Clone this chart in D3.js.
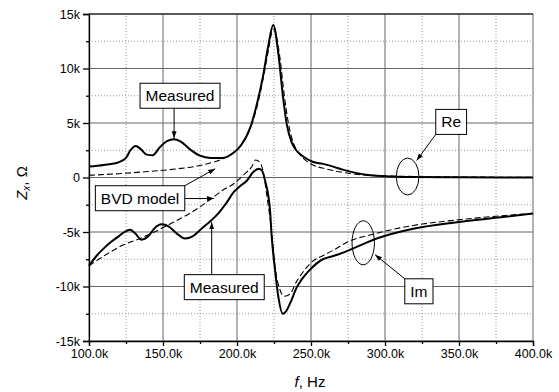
<!DOCTYPE html>
<html>
<head>
<meta charset="utf-8">
<script src="https://d3js.org/d3.v7.min.js"></script>
<style>
  body { margin: 0; background: #fff; }
  svg { display: block; font-family: "Liberation Sans", Arial, sans-serif; }
</style>
</head>
<body>
<div id="chart"></div>
<script>
// frequency in kHz, impedance in kOhm
const measuredRe = [
  [100, 1.0], [110, 1.15], [120, 1.4], [125, 1.8], [128, 2.5], [131.5, 2.9], [135, 2.6],
  [139, 2.1], [143, 2.05], [148, 2.8], [153, 3.35], [157, 3.5], [162, 3.3], [168, 2.6],
  [175, 2.0], [182, 1.8], [190, 1.8], [197, 2.2], [203, 3.0], [209, 4.6], [213, 6.5],
  [217.6, 9.3], [221, 12.0], [224.5, 14.0], [228, 11.3], [231, 7.5], [233.6, 4.9],
  [237, 3.2], [240, 2.5], [245, 1.9], [251, 1.45], [258, 1.25], [265, 1.0], [272, 0.7],
  [281, 0.4], [290, 0.2], [303, 0.1], [320, 0.04], [350, 0.02], [400, 0.0]
];
const bvdRe = [
  [100, 0.2], [120, 0.35], [140, 0.55], [160, 0.8], [175, 1.1], [185, 1.45], [192, 1.8],
  [198, 2.3], [203, 3.0], [208, 4.2], [213, 6.2], [217, 8.6], [221, 11.5], [224, 13.5],
  [225, 13.6], [226, 13.3], [229, 11.0], [232, 7.5], [235, 4.8], [238, 3.2], [242, 2.2],
  [247, 1.5], [252, 1.1], [260, 0.8], [270, 0.5], [280, 0.3], [300, 0.15], [350, 0.05],
  [400, 0.02]
];
const measuredIm = [
  [100, -8.1], [105, -7.2], [110, -6.5], [115, -5.9], [120, -5.4], [124, -5.0], [127.7, -4.8],
  [131, -5.1], [135.6, -5.7], [140, -5.4], [144, -4.7], [149, -4.3], [154, -4.5], [159, -5.1],
  [164.9, -5.6], [170, -5.4], [176, -4.7], [182.9, -3.9], [188, -3.2], [193, -2.3],
  [198, -1.3], [202, -0.8], [206.6, -0.3], [211, 0.5], [214.9, 0.8], [217, 0.6], [219, -0.3],
  [222.3, -3.0], [223.5, -5.5], [225.7, -8.5], [228, -11.0], [230.9, -12.5], [233, -12.3],
  [236, -11.5], [240.3, -10.1], [244, -9.3], [249, -8.5], [258, -7.5], [265, -7.2],
  [269.6, -7.0], [278.6, -6.5], [294.4, -5.6], [319, -4.7], [348.5, -4.1], [375, -3.7],
  [400, -3.3]
];
const bvdIm = [
  [100, -8.1], [110, -7.2], [123, -6.2], [134.5, -5.6], [145.7, -4.9], [157, -4.1],
  [168, -3.3], [176, -2.6], [184, -1.8], [190, -1.2], [197.5, -0.6], [205, 0.3], [210, 1.0],
  [212.6, 1.6], [215.5, 1.4], [218, 0.3], [220, -1.5], [223, -4.5], [225.7, -8.2],
  [229, -10.3], [232, -10.9], [235.8, -10.7], [240, -9.6], [245, -8.6], [251, -7.7],
  [258.3, -7.15], [266, -6.6], [275, -5.9], [292, -5.2], [319, -4.4], [348.5, -3.9],
  [375, -3.55], [400, -3.3]
];

const xTicks = [100, 150, 200, 250, 300, 350, 400];
const xMinor = [125, 175, 225, 275, 325, 375];
const yTicks = [-15, -10, -5, 0, 5, 10, 15];
const yMinor = [-12.5, -7.5, -2.5, 2.5, 7.5, 12.5];

// label boxes: text, box centre (kHz, kOhm), arrow tips
const labels = [
  { text: 'Measured', at: [161.5, 7.5], arrows: [[157.5, 3.6]] },
  { text: 'BVD model', at: [134.5, -1.9], arrows: [[185.3, 0.8], [184.5, -1.93]] },
  { text: 'Measured', at: [191.4, -10.06], arrows: [[182.9, -4.1]] },
  { text: 'Re', at: [344.7, 5.1], arrows: [[321.4, 1.56]] },
  { text: 'Im', at: [322.9, -10.44], arrows: [[293.3, -7.09]] }
];
const ellipses = [
  { at: [315.3, 0.09], rx: 11.3, ry: 18.5 },
  { at: [285.3, -5.99], rx: 11.2, ry: 22 }
];

const width = 559, height = 392;
const svg = d3.select('#chart').append('svg')
  .attr('width', width)
  .attr('height', height);

const x = d3.scaleLinear().domain([100, 400]).range([89, 533]);
const y = d3.scaleLinear().domain([-15, 15]).range([341, 14]);

// grid
const grid = svg.append('g');
grid.selectAll('.vminor').data(xMinor).enter().append('line')
  .attr('x1', d => x(d)).attr('x2', d => x(d))
  .attr('y1', y(-15)).attr('y2', y(15))
  .attr('stroke', '#9a9a9a').attr('stroke-dasharray', '1,2');
grid.selectAll('.hminor').data(yMinor).enter().append('line')
  .attr('x1', x(100)).attr('x2', x(400))
  .attr('y1', d => y(d)).attr('y2', d => y(d))
  .attr('stroke', '#9a9a9a').attr('stroke-dasharray', '1,2');
grid.selectAll('.vmajor').data(xTicks).enter().append('line')
  .attr('x1', d => x(d)).attr('x2', d => x(d))
  .attr('y1', y(-15)).attr('y2', y(15))
  .attr('stroke', '#666');
grid.selectAll('.hmajor').data(yTicks).enter().append('line')
  .attr('x1', x(100)).attr('x2', x(400))
  .attr('y1', d => y(d)).attr('y2', d => y(d))
  .attr('stroke', '#666');
svg.append('line')
  .attr('x1', x(100)).attr('x2', x(400))
  .attr('y1', y(15)).attr('y2', y(15))
  .attr('stroke', '#000');

// curves
const line = d3.line()
  .x(d => x(d[0]))
  .y(d => y(d[1]))
  .curve(d3.curveMonotoneX);

[bvdRe, bvdIm].forEach(s => {
  svg.append('path').attr('d', line(s))
    .attr('fill', 'none').attr('stroke', '#000')
    .attr('stroke-width', 1.1).attr('stroke-dasharray', '6,3');
});
[measuredRe, measuredIm].forEach(s => {
  svg.append('path').attr('d', line(s))
    .attr('fill', 'none').attr('stroke', '#000')
    .attr('stroke-width', 2);
});

// axes
const fmtX = d => d.toFixed(1) + 'k';
const fmtY = d => d === 0 ? '0' : (d < 0 ? '-' + (-d) : d) + 'k';

const xAxis = svg.append('g')
  .attr('transform', `translate(0,${y(-15)})`)
  .call(d3.axisBottom(x).tickValues(xTicks).tickSize(5).tickPadding(3).tickFormat(fmtX));
svg.append('g')
  .attr('transform', `translate(0,${y(-15)})`)
  .call(d3.axisBottom(x).tickValues(xMinor).tickSize(3).tickFormat(''))
  .select('.domain').remove();
const yAxis = svg.append('g')
  .attr('transform', `translate(${x(100)},0)`)
  .call(d3.axisLeft(y).tickValues(yTicks).tickSize(6).tickPadding(3).tickFormat(fmtY));
svg.append('g')
  .attr('transform', `translate(${x(100)},0)`)
  .call(d3.axisLeft(y).tickValues(yMinor).tickSize(3).tickFormat(''))
  .select('.domain').remove();

svg.selectAll('.tick text')
  .attr('font-family', '"Liberation Sans", Arial, sans-serif')
  .attr('font-size', 12.5)
  .attr('fill', '#000');
svg.selectAll('.domain, .tick line').attr('stroke', '#000').attr('stroke-width', 1.3);

// axis titles
const xt = svg.append('text')
  .attr('x', 310).attr('y', 387)
  .attr('text-anchor', 'middle')
  .attr('font-size', 15);
xt.append('tspan').attr('font-style', 'italic').text('f');
xt.append('tspan').text(', Hz');

const yt = svg.append('text')
  .attr('transform', 'translate(27,183) rotate(-90)')
  .attr('text-anchor', 'middle')
  .attr('font-size', 15);
yt.append('tspan').attr('font-style', 'italic').text('Z');
yt.append('tspan').attr('font-style', 'italic').attr('font-size', 10).attr('dy', 3).text('x');
yt.append('tspan').attr('dy', -3).text(', \u03A9');

// arrow marker
svg.append('defs').append('marker')
  .attr('id', 'arrow')
  .attr('viewBox', '0 0 10 10')
  .attr('refX', 10).attr('refY', 5)
  .attr('markerWidth', 7).attr('markerHeight', 7)
  .attr('markerUnits', 'userSpaceOnUse')
  .attr('orient', 'auto')
  .append('path').attr('d', 'M0,1.5 L10,5 L0,8.5 Z').attr('fill', '#000');

// ellipses
svg.selectAll('.ell').data(ellipses).enter().append('ellipse')
  .attr('cx', d => x(d.at[0])).attr('cy', d => y(d.at[1]))
  .attr('rx', d => d.rx).attr('ry', d => d.ry)
  .attr('fill', 'none').attr('stroke', '#000').attr('stroke-width', 1);

// label boxes with arrows
labels.forEach(l => {
  const cx = x(l.at[0]), cy = y(l.at[1]);
  const g = svg.append('g');
  const t = g.append('text')
    .attr('x', cx).attr('y', cy + 5.5)
    .attr('text-anchor', 'middle')
    .attr('font-size', 15.5)
    .text(l.text);
  const bb = t.node().getBBox();
  const w = bb.width + 11, h = 25;
  const x0 = cx - w / 2, y0 = cy - h / 2;
  l.arrows.forEach(a => {
    const tx = x(a[0]), ty = y(a[1]);
    // start at the box edge nearest to the target
    const sx = Math.max(x0, Math.min(x0 + w, tx));
    const sy = Math.max(y0, Math.min(y0 + h, ty));
    g.insert('line', 'text')
      .attr('x1', sx).attr('y1', sy)
      .attr('x2', tx).attr('y2', ty)
      .attr('stroke', '#000').attr('stroke-width', 1)
      .attr('marker-end', 'url(#arrow)');
  });
  g.insert('rect', 'text')
    .attr('x', x0).attr('y', y0)
    .attr('width', w).attr('height', h)
    .attr('fill', '#fff').attr('stroke', '#000').attr('stroke-width', 1);
});
</script>
</body>
</html>
